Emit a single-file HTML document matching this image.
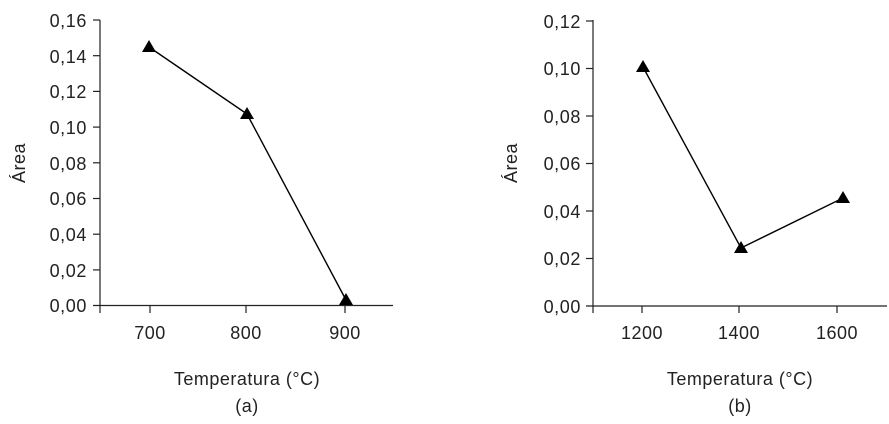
<!DOCTYPE html>
<html><head><meta charset="utf-8"><style>
html,body{margin:0;padding:0;background:#fff;}
svg{display:block;font-family:"Liberation Sans","DejaVu Sans",sans-serif;}
</style></head><body>
<svg width="889" height="424" viewBox="0 0 889 424" xmlns="http://www.w3.org/2000/svg">
<g stroke="#222" stroke-width="1.2" fill="none">
<line x1="100" y1="20" x2="100" y2="313"/>
<line x1="93" y1="305.5" x2="393" y2="305.5"/>
<line x1="93" y1="20" x2="100" y2="20"/>
<line x1="93" y1="55.7" x2="100" y2="55.7"/>
<line x1="93" y1="91.4" x2="100" y2="91.4"/>
<line x1="93" y1="127.1" x2="100" y2="127.1"/>
<line x1="93" y1="162.8" x2="100" y2="162.8"/>
<line x1="93" y1="198.5" x2="100" y2="198.5"/>
<line x1="93" y1="234.2" x2="100" y2="234.2"/>
<line x1="93" y1="269.9" x2="100" y2="269.9"/>
<line x1="150" y1="305.5" x2="150" y2="313"/>
<line x1="246" y1="305.5" x2="246" y2="313"/>
<line x1="345" y1="305.5" x2="345" y2="313"/>
<line x1="593" y1="20" x2="593" y2="313"/>
<line x1="586" y1="306" x2="887" y2="306"/>
<line x1="586" y1="21" x2="593" y2="21"/>
<line x1="586" y1="68.5" x2="593" y2="68.5"/>
<line x1="586" y1="116" x2="593" y2="116"/>
<line x1="586" y1="163.5" x2="593" y2="163.5"/>
<line x1="586" y1="211" x2="593" y2="211"/>
<line x1="586" y1="258.5" x2="593" y2="258.5"/>
<line x1="642" y1="306" x2="642" y2="313"/>
<line x1="739" y1="306" x2="739" y2="313"/>
<line x1="837" y1="306" x2="837" y2="313"/>
</g>
<g stroke="#000" stroke-width="1.4" fill="none">
<polyline points="149,47 247,114 346,300"/>
<polyline points="643,67 741,248 843,198"/>
</g>
<g fill="#000">
<polygon points="149,40 142,52 156,52"/>
<polygon points="247,107 240,119 254,119"/>
<polygon points="346,293 339,305 353,305"/>
<polygon points="643,60 636,72 650,72"/>
<polygon points="741,241 734,253 748,253"/>
<polygon points="843,191 836,203 850,203"/>
</g>
<g font-size="18" fill="#222" text-anchor="end" letter-spacing="0.6">
<text x="87" y="27">0,16</text>
<text x="87" y="63">0,14</text>
<text x="87" y="98">0,12</text>
<text x="87" y="134">0,10</text>
<text x="87" y="170">0,08</text>
<text x="87" y="205">0,06</text>
<text x="87" y="241">0,04</text>
<text x="87" y="277">0,02</text>
<text x="87" y="312">0,00</text>
<text x="581" y="28">0,12</text>
<text x="581" y="75">0,10</text>
<text x="581" y="123">0,08</text>
<text x="581" y="170">0,06</text>
<text x="581" y="218">0,04</text>
<text x="581" y="265">0,02</text>
<text x="581" y="313">0,00</text>
</g>
<g font-size="18" fill="#222" text-anchor="middle" letter-spacing="0.5">
<text x="150" y="339">700</text>
<text x="246" y="339">800</text>
<text x="345" y="339">900</text>
<text x="642" y="339">1200</text>
<text x="739" y="339">1400</text>
<text x="837" y="339">1600</text>
<text x="247" y="385">Temperatura (°C)</text>
<text x="247" y="412">(a)</text>
<text x="740" y="385">Temperatura (°C)</text>
<text x="740" y="412">(b)</text>
<text transform="translate(25,163) rotate(-90)">Área</text>
<text transform="translate(517,163) rotate(-90)">Área</text>
</g>
</svg>
</body></html>
